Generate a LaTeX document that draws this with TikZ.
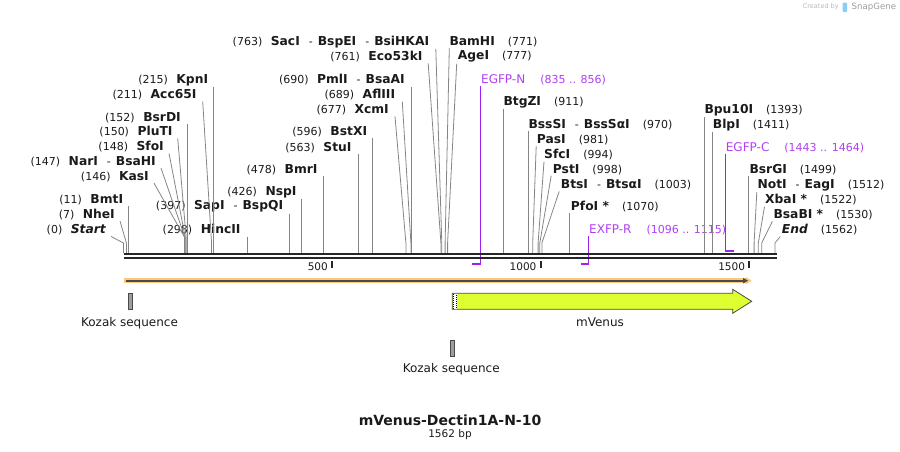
\documentclass[tikz,border=0pt]{standalone}
\usepackage{fontspec}
\setmainfont{DejaVu Sans}
\usepackage{tikz}
\usetikzlibrary{arrows.meta}
\definecolor{sgtext}{HTML}{1A1A1A}
\definecolor{sgline}{HTML}{858585}
\definecolor{sgbar}{HTML}{262626}
\definecolor{sgprimer}{HTML}{A020F0}
\definecolor{sgprimertext}{HTML}{B040F0}
\definecolor{sgorf}{HTML}{F9C97C}
\definecolor{sgorfdark}{HTML}{4A4A4A}
\definecolor{sgvenus}{HTML}{DFFF30}
\definecolor{sgkozak}{HTML}{9A9FA6}
\definecolor{sglogo}{HTML}{B8B8B8}
\definecolor{sglogoblue}{HTML}{8CCDF2}

\newcommand{\enz}[1]{{\fontsize{12.3}{13}\selectfont\bfseries #1}}
\newcommand{\cutsep}{\hspace{9pt}-\hspace{5pt}}
\newcommand{\numgap}{\hspace{8.5pt}}
\newcommand{\namegap}{\hspace{13pt}}

\begin{document}
\begin{tikzpicture}[
  x=1pt, y=-1pt,
  lcut/.style={
    anchor=east, inner xsep=0pt, inner ysep=1pt,
    font=\fontsize{11}{12}\selectfont, text=sgtext
  },
  rcut/.style={
    anchor=west, inner xsep=0pt, inner ysep=1pt,
    font=\fontsize{11}{12}\selectfont, text=sgtext
  },
  plabel/.style={
    anchor=west, inner xsep=0pt, inner ysep=1pt,
    font=\fontsize{11}{12}\selectfont, text=sgprimertext
  },
  cutline/.style={draw=sgline, line width=0.8pt},
  primer/.style={draw=sgprimer, line width=1.6pt},
  seqline/.style={draw=sgbar, line width=2pt},
  tickmark/.style={draw=sgbar, line width=2pt},
  ticklabel/.style={anchor=east, inner sep=0pt, font=\fontsize{10.5}{12}\selectfont, text=sgtext},
  kozak/.style={draw=sgorfdark, fill=sgkozak, line width=0.8pt},
  featlabel/.style={font=\fontsize{12}{14}\selectfont, text=sgtext}
]
\useasboundingbox (0,0) rectangle (900,451);

% CREATED BY
\node[anchor=west, inner sep=0pt, font=\fontsize{6.5}{8}\selectfont, text=sglogo] (created) at (802.7,7) {Created by};
\fill[sglogoblue, rounded corners=1pt] (842.5,2.5) rectangle (847,12);
\node[anchor=west, inner sep=0pt, font=\fontsize{8.6}{10}\selectfont, text=sglogo!85!black] (snapgene) at (851.5,7) {SnapGene};

% LEFT-HAND SITES
\node[lcut] (startL) at (106,230) {(0)\numgap\enz{\itshape Start}};
\node[lcut] (nheI) at (115,214.3) {(7)\numgap\enz{NheI}};
\node[lcut] (bmtI) at (123.3,200) {(11)\numgap\enz{BmtI}};
\node[lcut] (kasI) at (149,176.7) {(146)\numgap\enz{KasI}};
\node[lcut] (narI) at (156,161.7) {(147)\numgap\enz{NarI}\cutsep\enz{BsaHI}};
\node[lcut] (sfoI) at (164,146.7) {(148)\numgap\enz{SfoI}};
\node[lcut] (pluTI) at (172.7,131.7) {(150)\numgap\enz{PluTI}};
\node[lcut] (bsrDI) at (181,117.3) {(152)\numgap\enz{BsrDI}};
\node[lcut] (acc65I) at (196.7,95) {(211)\numgap\enz{Acc65I}};
\node[lcut] (kpnI) at (208.3,80) {(215)\numgap\enz{KpnI}};
\node[lcut] (hincII) at (240.7,230) {(298)\numgap\enz{HincII}};
\node[lcut] (sapI) at (283.3,206.7) {(397)\numgap\enz{SapI}\cutsep\enz{BspQI}};
\node[lcut] (nspI) at (296.7,192.3) {(426)\numgap\enz{NspI}};
\node[lcut] (bmrI) at (317.7,170) {(478)\numgap\enz{BmrI}};
\node[lcut] (stuI) at (351.7,147.3) {(563)\numgap\enz{StuI}};
\node[lcut] (bstXI) at (367.3,131.7) {(596)\numgap\enz{BstXI}};
\node[lcut] (xcmI) at (389,110) {(677)\numgap\enz{XcmI}};
\node[lcut] (aflIII) at (395.3,95) {(689)\numgap\enz{AflIII}};
\node[lcut] (pmlI) at (405,80) {(690)\numgap\enz{PmlI}\cutsep\enz{BsaAI}};
\node[lcut] (eco53kI) at (422.7,56.7) {(761)\numgap\enz{Eco53kI}};
\node[lcut] (sacI) at (429.3,41.7) {(763)\numgap\enz{SacI}\cutsep\enz{BspEI}\cutsep\enz{BsiHKAI}};

% RIGHT-HAND SITES
\node[rcut] (bamHI) at (449.3,41.7) {\enz{BamHI}\namegap(771)};
\node[rcut] (ageI) at (457.7,56.7) {\enz{AgeI}\namegap(777)};
\node[rcut] (btgZI) at (503.3,102.3) {\enz{BtgZI}\namegap(911)};
\node[rcut] (bssSI) at (528.3,124.3) {\enz{BssSI}\cutsep\enz{BssSαI}\namegap(970)};
\node[rcut] (pasI) at (536.7,140) {\enz{PasI}\namegap(981)};
\node[rcut] (sfcI) at (544,155) {\enz{SfcI}\namegap(994)};
\node[rcut] (pstI) at (552.7,169.3) {\enz{PstI}\namegap(998)};
\node[rcut] (btsI) at (560.7,185) {\enz{BtsI}\cutsep\enz{BtsαI}\namegap(1003)};
\node[rcut] (pfoI) at (570.7,206.7) {\enz{PfoI *}\namegap(1070)};
\node[rcut] (bpu10I) at (704.3,110) {\enz{Bpu10I}\namegap(1393)};
\node[rcut] (blpI) at (712.7,125) {\enz{BlpI}\namegap(1411)};
\node[rcut] (bsrGI) at (749.3,170) {\enz{BsrGI}\namegap(1499)};
\node[rcut] (notI) at (757.3,185) {\enz{NotI}\cutsep\enz{EagI}\namegap(1512)};
\node[rcut] (xbaI) at (765,200) {\enz{XbaI *}\namegap(1522)};
\node[rcut] (bsaBI) at (773.3,215) {\enz{BsaBI *}\namegap(1530)};
\node[rcut] (endR) at (781.7,230) {\enz{\itshape End}\namegap(1562)};

% PRIMERS
\node[plabel] (egfpN) at (481,80) {{\fontsize{12}{13}\selectfont EGFP-N}\hspace{15pt}(835 .. 856)};
\node[plabel] (exfpR) at (589,230) {{\fontsize{12}{13}\selectfont EXFP-R}\hspace{15pt}(1096 .. 1115)};
\node[plabel] (egfpC) at (725.7,147.3) {{\fontsize{12}{13}\selectfont EGFP-C}\hspace{15pt}(1443 .. 1464)};

% cut positions on the sequence
\coordinate (startLcut) at (123.5,253);
\coordinate (nheIcut) at (126.4,253);
\coordinate (bmtIcut) at (128.1,253);
\coordinate (kasIcut) at (184.4,253);
\coordinate (narIcut) at (184.8,253);
\coordinate (sfoIcut) at (185.2,253);
\coordinate (pluTIcut) at (186.1,253);
\coordinate (bsrDIcut) at (186.9,253);
\coordinate (acc65Icut) at (211.5,253);
\coordinate (kpnIcut) at (213.2,253);
\coordinate (hincIIcut) at (247.8,253);
\coordinate (sapIcut) at (289.1,253);
\coordinate (nspIcut) at (301.2,253);
\coordinate (bmrIcut) at (322.9,253);
\coordinate (stuIcut) at (358.3,253);
\coordinate (bstXIcut) at (372.1,253);
\coordinate (xcmIcut) at (405.9,253);
\coordinate (aflIIIcut) at (410.9,253);
\coordinate (pmlIcut) at (411.3,253);
\coordinate (eco53kIcut) at (440.9,253);
\coordinate (sacIcut) at (441.8,253);
\coordinate (bamHIcut) at (445.1,253);
\coordinate (ageIcut) at (447.6,253);
\coordinate (btgZIcut) at (503.5,253);
\coordinate (bssSIcut) at (528.1,253);
\coordinate (pasIcut) at (532.7,253);
\coordinate (sfcIcut) at (538.1,253);
\coordinate (pstIcut) at (539.8,253);
\coordinate (btsIcut) at (541.9,253);
\coordinate (pfoIcut) at (569.8,253);
\coordinate (bpu10Icut) at (704.5,253);
\coordinate (blpIcut) at (712.0,253);
\coordinate (bsrGIcut) at (748.7,253);
\coordinate (notIcut) at (754.1,253);
\coordinate (xbaIcut) at (758.3,253);
\coordinate (bsaBIcut) at (761.7,253);
\coordinate (endRcut) at (775.0,253);

% left-hand cut lines
\draw[cutline] ([xshift=5pt]startL.south east) -- ([yshift=10pt]startLcut) -- (startLcut);
\draw[cutline] ([xshift=5pt]nheI.south east) -- ([yshift=10pt]nheIcut) -- (nheIcut);
\draw[cutline] (bmtIcut |- bmtI.south) -- (bmtIcut);
\draw[cutline] ([xshift=5pt]kasI.south east) -- ([yshift=16pt]kasIcut) -- (kasIcut);
\draw[cutline] ([xshift=5pt]narI.south east) -- ([yshift=16pt]narIcut) -- (narIcut);
\draw[cutline] ([xshift=5pt]sfoI.south east) -- ([yshift=16pt]sfoIcut) -- (sfoIcut);
\draw[cutline] ([xshift=5pt]pluTI.south east) -- ([yshift=16pt]pluTIcut) -- (pluTIcut);
\draw[cutline] (bsrDIcut |- bsrDI.south) -- (bsrDIcut);
\draw[cutline] ([xshift=6pt]acc65I.south east) -- ([yshift=11pt]acc65Icut) -- (acc65Icut);
\draw[cutline] (kpnIcut |- kpnI.south) -- (kpnIcut);
\draw[cutline] (hincIIcut |- hincII.south) -- (hincIIcut);
\draw[cutline] (sapIcut |- sapI.south) -- (sapIcut);
\draw[cutline] (nspIcut |- nspI.south) -- (nspIcut);
\draw[cutline] (bmrIcut |- bmrI.south) -- (bmrIcut);
\draw[cutline] (stuIcut |- stuI.south) -- (stuIcut);
\draw[cutline] (bstXIcut |- bstXI.south) -- (bstXIcut);
\draw[cutline] ([xshift=6pt]xcmI.south east) -- ([yshift=10pt]xcmIcut) -- (xcmIcut);
\draw[cutline] ([xshift=7pt]aflIII.south east) -- ([yshift=10pt]aflIIIcut) -- (aflIIIcut);
\draw[cutline] (pmlIcut |- pmlI.south) -- (pmlIcut);
\draw[cutline] ([xshift=5.5pt]eco53kI.south east) -- ([yshift=10pt]eco53kIcut) -- (eco53kIcut);
\draw[cutline] ([xshift=6.5pt]sacI.south east) -- ([yshift=10pt]sacIcut) -- (sacIcut);

% right-hand cut lines
\draw[cutline] (bamHI.south west) -- ([yshift=10pt]bamHIcut) -- (bamHIcut);
\draw[cutline] ([xshift=-1pt]ageI.south west) -- ([yshift=10pt]ageIcut) -- (ageIcut);
\draw[cutline] (btgZIcut |- btgZI.south) -- (btgZIcut);
\draw[cutline] (bssSIcut |- bssSI.south) -- (bssSIcut);
\draw[cutline] ([xshift=-0.5pt]pasI.south west) -- ([yshift=10pt]pasIcut) -- (pasIcut);
\draw[cutline] (sfcI.south west) -- ([yshift=10pt]sfcIcut) -- (sfcIcut);
\draw[cutline] ([xshift=-1.5pt]pstI.south west) -- ([yshift=10pt]pstIcut) -- (pstIcut);
\draw[cutline] ([xshift=-1.5pt]btsI.south west) -- ([yshift=10pt]btsIcut) -- (btsIcut);
\draw[cutline] (pfoIcut |- pfoI.south) -- (pfoIcut);
\draw[cutline] (bpu10Icut |- bpu10I.south) -- (bpu10Icut);
\draw[cutline] (blpIcut |- blpI.south) -- (blpIcut);
\draw[cutline] (bsrGIcut |- bsrGI.south) -- (bsrGIcut);
\draw[cutline] ([xshift=-0.5pt]notI.south west) -- ([yshift=10pt]notIcut) -- (notIcut);
\draw[cutline] ([xshift=-0.5pt]xbaI.south west) -- ([yshift=10pt]xbaIcut) -- (xbaIcut);
\draw[cutline] ([xshift=-1pt]bsaBI.south west) -- ([yshift=10pt]bsaBIcut) -- (bsaBIcut);
\draw[cutline] ([xshift=-1.5pt]endR.south west) -- ([yshift=10pt]endRcut) -- (endRcut);

% primer marks
\coordinate (egfpNa) at (471.8,264);
\coordinate (egfpNb) at (480.5,264);
\coordinate (exfpRa) at (580.7,264);
\coordinate (exfpRb) at (588.6,264);
\coordinate (egfpCa) at (725.4,250.7);
\coordinate (egfpCb) at (734.1,250.7);
\draw[primer] (egfpNb |- egfpN.south) -- (egfpNb) -- (egfpNa);
\draw[primer] (exfpRb |- exfpR.south) -- (exfpRb) -- (exfpRa);
\draw[primer] (egfpCa |- egfpC.south) -- (egfpCa) -- (egfpCb);

% SEQUENCE
\coordinate (seqA) at (123.5,254.3);
\coordinate (seqB) at (776.7,254.3);
\draw[seqline] (seqA) -- (seqB);
\draw[seqline] ([yshift=-4pt]seqA) -- ([yshift=-4pt]seqB);

% scale ticks
\coordinate (tick500) at (332.05,260.5);
\coordinate (tick1000) at (540.6,260.5);
\coordinate (tick1500) at (749.2,260.5);
\draw[tickmark] (tick500) -- ++(0,7);
\draw[tickmark] (tick1000) -- ++(0,7);
\draw[tickmark] (tick1500) -- ++(0,7);
\node[ticklabel] (lab500) at ([xshift=-4pt,yshift=-6.2pt]tick500) {500};
\node[ticklabel] (lab1000) at ([xshift=-4pt,yshift=-6.2pt]tick1000) {1000};
\node[ticklabel] (lab1500) at ([xshift=-4pt,yshift=-6.2pt]tick1500) {1500};

% ORF
\coordinate (orfS) at (123.5,280.7);
\coordinate (orfE) at (751.7,280.7);
\draw[sgorf, line width=5.5pt, -{Triangle[length=6pt,width=7pt]}] (orfS) -- (orfE);
\draw[sgorfdark, line width=1.6pt, -{Triangle[length=5pt,width=5pt]}] ([xshift=2pt]orfS) -- ([xshift=-3.5pt]orfE);

% FEATURES
\draw[kozak] (128.3,293.3) rectangle (132.7,309.3);
\node[featlabel] (kozak1) at (129.5,322.7) {Kozak sequence};
\draw[kozak] (450.7,340) rectangle (454.7,356.7);
\node[featlabel] (kozak2) at (451.2,369.3) {Kozak sequence};

\draw[draw=sgorfdark, fill=sgvenus, line width=0.8pt]
  (452.3,293.3) -- (732.7,293.3) -- (732.7,289.3) -- (751.7,301.3)
  -- (732.7,313.3) -- (732.7,309.3) -- (452.3,309.3) -- cycle;
\fill[white] (452.9,293.9) rectangle (457.3,308.7);
\draw[black, line width=0.9pt, dash pattern=on 1pt off 1pt] (453.9,294.3) -- (453.9,309);
\draw[black, line width=0.9pt, dash pattern=on 1pt off 1pt] (456.2,295.3) -- (456.2,309);
\node[featlabel] (mvenus) at (600,322.3) {mVenus};

% TITLE
\node[font=\fontsize{14}{16}\selectfont\bfseries, text=sgtext] (title) at (450,420.7) {mVenus-Dectin1A-N-10};
\node[font=\fontsize{10.5}{12}\selectfont, text=sgtext] (length) at (450,434.3) {1562 bp};

\end{tikzpicture}
\end{document}
